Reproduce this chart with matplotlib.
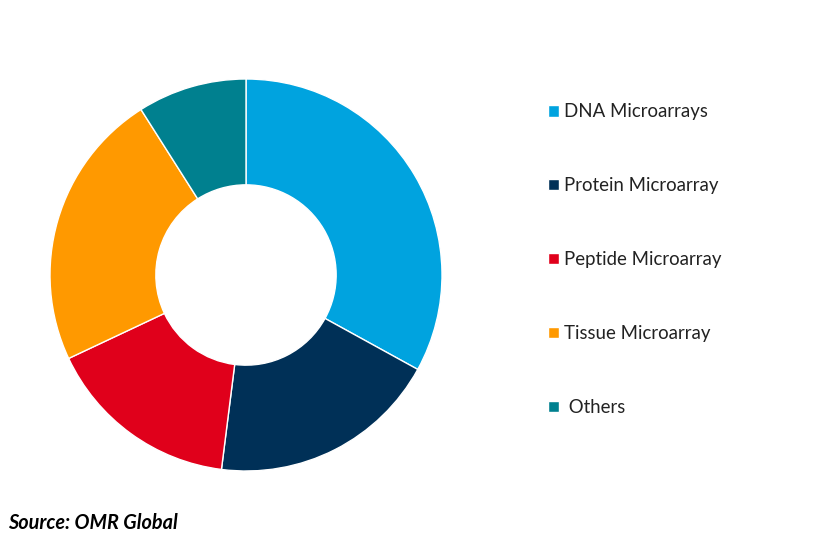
import matplotlib
matplotlib.use("Agg")
import matplotlib.pyplot as plt

plt.rcParams['font.family'] = ['Lato', 'DejaVu Sans']

segments = ["DNA Microarrays", "Protein Microarray", "Peptide Microarray",
            "Tissue Microarray", " Others"]
shares = [33, 19, 16, 23, 9]
colours = ["#00A3DF", "#003057", "#E0001B", "#FF9900", "#00808F"]

W, H = 822, 552
fig = plt.figure(figsize=(W / 100, H / 100), dpi=100)

# donut: centre (246, 275) px, outer radius 196 px
cx, cy, r = 246, 275, 196
ax = fig.add_axes([(cx - r) / W, (H - cy - r) / H, 2 * r / W, 2 * r / H])
wedges, _ = ax.pie(shares, colors=colours, startangle=90, counterclock=False,
                   radius=1, wedgeprops=dict(width=0.54, edgecolor="white", linewidth=1))
ax.set_xlim(-1, 1)
ax.set_ylim(-1, 1)
ax.axis("off")

leg = fig.legend(wedges, segments, loc="upper left",
                 bbox_to_anchor=(541 / W, 1 - 96 / H), frameon=False,
                 fontsize=13.4, labelspacing=3.06, handlelength=0.56,
                 handleheight=0.56, handletextpad=0.3, borderaxespad=0)
for t in leg.get_texts():
    t.set_color("#222222")

fig.text(8 / W, 1 - 523 / H, "Source: OMR Global", fontsize=14.3,
         fontweight="bold", fontstyle="italic", va="center", ha="left")

fig.savefig("out.png", dpi=100)
